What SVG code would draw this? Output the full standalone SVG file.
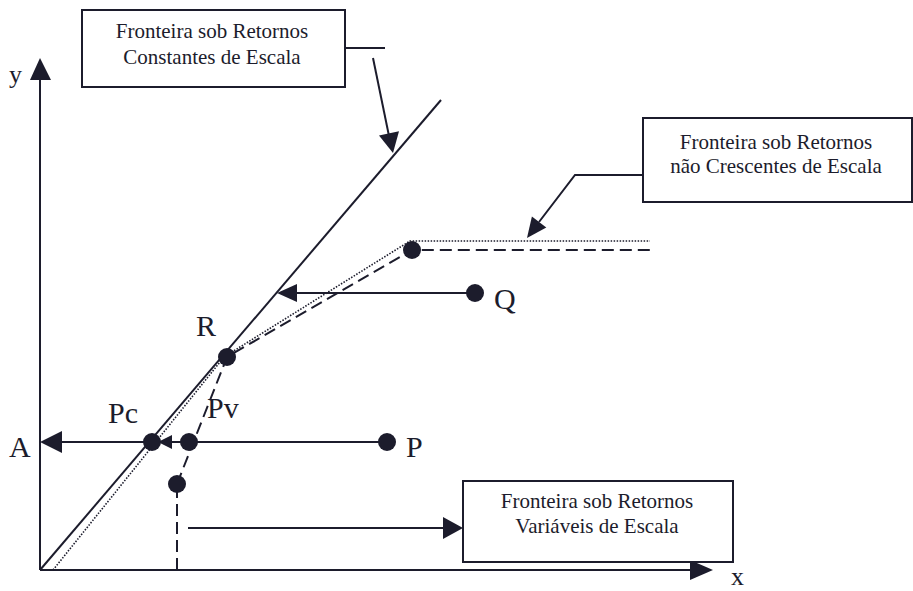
<svg xmlns="http://www.w3.org/2000/svg" width="913" height="591" viewBox="0 0 913 591">
<style>
.ln{stroke:#1c1c2c;stroke-width:2;fill:none}
.dash{stroke:#1c1c2c;stroke-width:2;fill:none;stroke-dasharray:12 6}
.dot{stroke:#1c1c2c;stroke-width:1.6;fill:none;stroke-dasharray:1.5 1.5}
.pt{fill:#1c1c2c}
.box{fill:#fff;stroke:#1c1c2c;stroke-width:2}
.bt{font-family:"Liberation Serif",serif;font-size:21px;fill:#1c1c2c;text-anchor:middle}
.lb{font-family:"Liberation Serif",serif;font-size:30px;fill:#1c1c2c}
.ah{fill:#1c1c2c}
</style>
<rect width="913" height="591" fill="#fff"/>
<g id="axes">
<line class="ln" x1="40" y1="570" x2="40" y2="78"/>
<polygon class="ah" points="40,58 30,80 51,80"/>
<line class="ln" x1="40" y1="570" x2="692" y2="570"/>
<polygon class="ah" points="713,570 690,560 690,580"/>
<text class="lb" x="9" y="83" style="font-size:26px">y</text>
<text class="lb" x="731" y="585" style="font-size:26px">x</text>
</g>
<g id="connectors">
<line class="ln" x1="40" y1="570" x2="441" y2="100"/>
<polyline class="dot" points="53,570 224,357 410,241 650,241"/>
<polyline class="dash" points="177,570 177,490"/>
<polyline class="dash" points="177,484 227,357 412,250 650,250"/>
<line class="ln" x1="473" y1="293" x2="295" y2="293"/>
<polygon class="ah" points="277,293 297,284 297,302"/>
<line class="ln" x1="387" y1="442" x2="60" y2="442"/>
<polygon class="ah" points="40,442 62,431 62,453"/>
<polygon class="ah" points="158,442 172,435 172,449"/>
<line class="ln" x1="188" y1="528" x2="445" y2="528"/>
<polygon class="ah" points="463,528 443,517 443,539"/>
<line class="ln" x1="345" y1="48" x2="385" y2="48"/>
<line class="ln" x1="373" y1="58" x2="389" y2="136"/>
<polygon class="ah" points="393,153 379,135.5 399,131.3"/>
<polyline class="ln" points="643,175 575,175 539,222"/>
<polygon class="ah" points="527,238 531.9,216.5 546.3,227.5"/>
</g>
<g id="points">
<circle class="pt" cx="227" cy="357" r="9"/>
<circle class="pt" cx="412" cy="250" r="9"/>
<circle class="pt" cx="475" cy="293" r="9"/>
<circle class="pt" cx="387" cy="442" r="9"/>
<circle class="pt" cx="152" cy="442" r="9"/>
<circle class="pt" cx="189" cy="442" r="9"/>
<circle class="pt" cx="177" cy="484" r="9"/>
<text class="lb" x="196" y="336">R</text>
<text class="lb" x="108" y="423">Pc</text>
<text class="lb" x="207" y="418">Pv</text>
<text class="lb" x="9" y="457">A</text>
<text class="lb" x="406" y="457">P</text>
<text class="lb" x="494" y="309">Q</text>
</g>
<g id="box-crs">
<rect class="box" x="82" y="10" width="263" height="77"/>
<text class="bt" x="212" y="38">Fronteira sob Retornos</text>
<text class="bt" x="212" y="64">Constantes de Escala</text>
</g>
<g id="box-nirs">
<rect class="box" x="643" y="118" width="269" height="84"/>
<text class="bt" x="776" y="149">Fronteira sob Retornos</text>
<text class="bt" x="776" y="173">não Crescentes de Escala</text>
</g>
<g id="box-vrs">
<rect class="box" x="463" y="481" width="270" height="81"/>
<text class="bt" x="597" y="508">Fronteira sob Retornos</text>
<text class="bt" x="597" y="533">Variáveis de Escala</text>
</g>
</svg>
